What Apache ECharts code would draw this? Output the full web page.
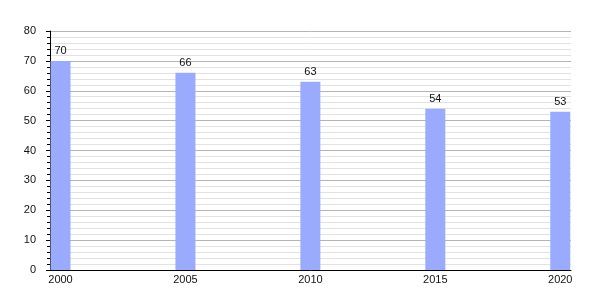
<!DOCTYPE html>
<html>
<head>
<meta charset="utf-8">
<script src="https://cdn.jsdelivr.net/npm/echarts@6/dist/echarts.min.js"></script>
<style>html,body{margin:0;padding:0;background:#fff}#c{width:600px;height:300px}</style>
</head>
<body>
<div id="c"></div>
<script>
const years = [2000, 2005, 2010, 2015, 2020];
const values = [70, 66, 63, 54, 53];
const yTicks = [0, 10, 20, 30, 40, 50, 60, 70, 80];

const chart = echarts.init(document.getElementById('c'), null, {renderer: 'canvas'});
chart.setOption({
  animation: false,
  backgroundColor: '#ffffff',
  grid: {left: 50, right: 29, top: 31, bottom: 30, containLabel: false},
  xAxis: {
    type: 'value',
    min: 1999.58,
    max: 2020.43,
    axisLine: {show: true, onZero: false, lineStyle: {color: '#000', width: 1}},
    axisTick: {show: false},
    splitLine: {show: false},
    axisLabel: {
      customValues: years,
      formatter: v => String(v),
      color: '#111',
      fontFamily: 'Liberation Sans, Arial, sans-serif',
      fontSize: 11,
      margin: 4
    }
  },
  yAxis: {
    type: 'value',
    min: 0,
    max: 80,
    interval: 10,
    axisLine: {show: true, lineStyle: {color: '#000', width: 1}},
    axisTick: {show: true, length: 4, lineStyle: {color: '#000'}},
    minorTick: {show: true, splitNumber: 5, length: 3, lineStyle: {color: '#000'}},
    splitLine: {show: true, lineStyle: {color: '#b4b4b4', width: 1}},
    minorSplitLine: {show: true, lineStyle: {color: '#e2e2e2', width: 1}},
    axisLabel: {
      color: '#111',
      fontFamily: 'Liberation Sans, Arial, sans-serif',
      fontSize: 11,
      margin: 14
    }
  },
  series: [{
    type: 'bar',
    data: years.map((y, i) => [y, values[i]]),
    barWidth: 20,
    itemStyle: {color: '#9aabfd'},
    label: {
      show: true,
      position: 'top',
      distance: 4,
      color: '#111',
      fontFamily: 'Liberation Sans, Arial, sans-serif',
      fontSize: 11
    }
  }]
});
</script>
</body>
</html>
